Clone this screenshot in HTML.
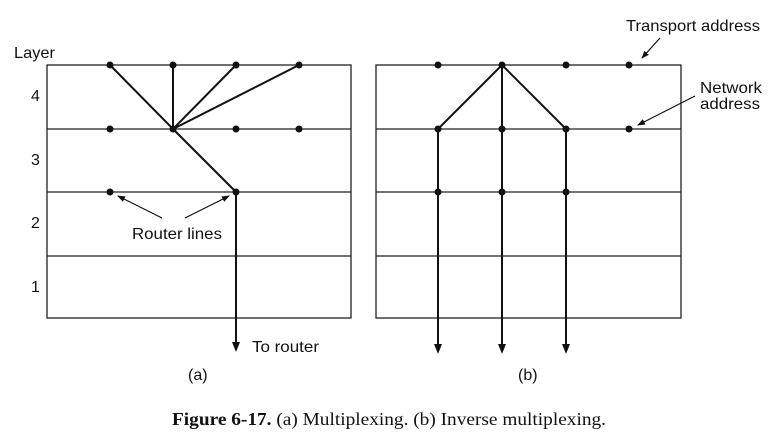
<!DOCTYPE html>
<html><head><style>
html,body{margin:0;padding:0;background:#fff;}
svg{display:block;}
text{font-family:"Liberation Sans",Arial,sans-serif;font-size:16px;fill:#111;}
.s{font-family:"Liberation Serif",serif;font-size:18px;}
</style></head><body>
<svg width="776" height="445" viewBox="0 0 776 445">
<defs>
<marker id="ah" markerWidth="8" markerHeight="8" refX="7" refY="4" orient="auto" markerUnits="userSpaceOnUse">
<path d="M0,1 L8,4 L0,7 Z" fill="#111"/></marker>
</defs>
<g stroke="#222" stroke-width="1.3" fill="none">
<rect x="47" y="65" width="304" height="253"/>
<line x1="47" y1="129" x2="351" y2="129"/>
<line x1="47" y1="192" x2="351" y2="192"/>
<line x1="47" y1="256" x2="351" y2="256"/>
<rect x="376" y="65" width="305" height="253"/>
<line x1="376" y1="129" x2="681" y2="129"/>
<line x1="376" y1="192" x2="681" y2="192"/>
<line x1="376" y1="256" x2="681" y2="256"/>
</g>
<g stroke="#111" stroke-width="2" fill="none">
<line x1="173" y1="129" x2="110" y2="65"/>
<line x1="173" y1="129" x2="173" y2="65"/>
<line x1="173" y1="129" x2="236" y2="65"/>
<line x1="173" y1="129" x2="299" y2="65"/>
<line x1="173" y1="129" x2="236" y2="192"/>
<line x1="236" y1="192" x2="236" y2="344"/>
<line x1="502" y1="65" x2="438" y2="129"/>
<line x1="502" y1="65" x2="566" y2="129"/>
<line x1="502" y1="65" x2="502" y2="346"/>
<line x1="438" y1="129" x2="438" y2="346"/>
<line x1="566" y1="129" x2="566" y2="346"/>
</g>
<g fill="#111">
<path d="M232,342 L240,342 L236,352 Z"/>
<path d="M434,344 L442,344 L438,354 Z"/>
<path d="M498,344 L506,344 L502,354 Z"/>
<path d="M562,344 L570,344 L566,354 Z"/>
<circle cx="110" cy="65" r="3.5"/><circle cx="173" cy="65" r="3.5"/><circle cx="236" cy="65" r="3.5"/><circle cx="299" cy="65" r="3.5"/>
<circle cx="110" cy="129" r="3.5"/><circle cx="173" cy="129" r="3.5"/><circle cx="236" cy="129" r="3.5"/><circle cx="299" cy="129" r="3.5"/>
<circle cx="110" cy="192" r="3.5"/><circle cx="236" cy="192" r="3.5"/>
<circle cx="438" cy="65" r="3.5"/><circle cx="502" cy="65" r="3.5"/><circle cx="566" cy="65" r="3.5"/><circle cx="629" cy="65" r="3.5"/>
<circle cx="438" cy="129" r="3.5"/><circle cx="502" cy="129" r="3.5"/><circle cx="566" cy="129" r="3.5"/><circle cx="629" cy="129" r="3.5"/>
<circle cx="438" cy="192" r="3.5"/><circle cx="502" cy="192" r="3.5"/><circle cx="566" cy="192" r="3.5"/>
</g>
<g stroke="#111" stroke-width="1.2" marker-end="url(#ah)">
<line x1="162" y1="218" x2="118" y2="196"/>
<line x1="185" y1="218" x2="229" y2="196"/>
<line x1="660" y1="38" x2="642" y2="58"/>
<line x1="695" y1="96" x2="638" y2="125"/>
</g>
<text x="14" y="58" textLength="41" lengthAdjust="spacingAndGlyphs">Layer</text>
<text x="31" y="101">4</text>
<text x="31" y="165">3</text>
<text x="31" y="228">2</text>
<text x="31" y="292">1</text>
<text x="132" y="239" textLength="90" lengthAdjust="spacingAndGlyphs">Router lines</text>
<text x="252" y="352" textLength="67" lengthAdjust="spacingAndGlyphs">To router</text>
<text x="188" y="380">(a)</text>
<text x="518" y="380">(b)</text>
<text x="626" y="31" textLength="134" lengthAdjust="spacingAndGlyphs">Transport address</text>
<text x="700" y="93" textLength="62" lengthAdjust="spacingAndGlyphs">Network</text>
<text x="700" y="109" textLength="60" lengthAdjust="spacingAndGlyphs">address</text>
<text x="172" y="425" class="s" textLength="434" lengthAdjust="spacingAndGlyphs"><tspan font-weight="bold">Figure 6-17.</tspan>  (a) Multiplexing. (b) Inverse multiplexing.</text>
</svg>
</body></html>
